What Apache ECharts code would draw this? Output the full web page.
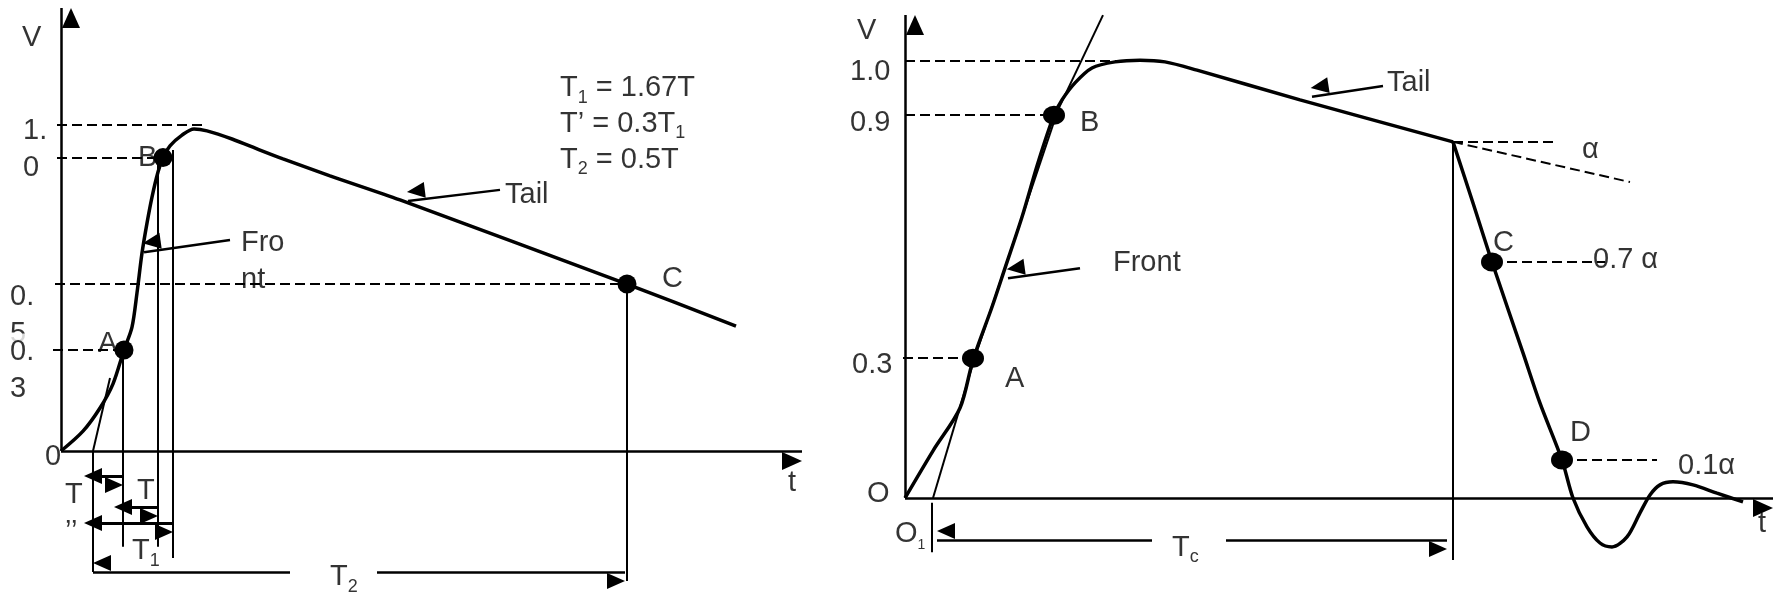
<!DOCTYPE html>
<html>
<head>
<meta charset="utf-8">
<title>Impulse wave shapes</title>
<script src="https://cdn.jsdelivr.net/npm/echarts@6/dist/echarts.min.js"></script>
<style>
  html, body { margin: 0; padding: 0; background: #fff; }
  #main { width: 1778px; height: 599px; }
</style>
</head>
<body>
<div id="main"></div>
<script>
// ---- left diagram: t counted from the origin, V in per unit of the crest ----
const leftWave = [[0, 0], [22, 0.061], [39, 0.132], [52, 0.206], [63, 0.31], [71, 0.38], [76, 0.485],
  [81, 0.607], [86, 0.699], [91, 0.779], [97, 0.856], [102, 0.9], [109, 0.936], [121, 0.969],
  [133, 0.988], [146, 0.982], [171, 0.957], [199, 0.923], [222, 0.896], [269, 0.844], [339, 0.77],
  [566, 0.512], [675, 0.383]];
const leftPoints = [[63, 0.31], [102, 0.9], [566, 0.512]];           // A, B, C
const leftAxes = [[0, 0, 741, 0], [0, 0, 0, 1.359]];
const leftGuides = [[-4, 1.0, 142, 1.0], [-4, 0.9, 102, 0.9], [-6, 0.512, 566, 0.512], [-8, 0.31, 63, 0.31]];
const leftDrops = [[62, 0.31, 62, -0.294], [97, 0.883, 97, -0.294], [112, 0.923, 112, -0.328],
  [32, 0, 32, -0.371], [566, 0.512, 566, -0.399], [32, 0, 49, 0.224]];
const leftDims = [[32, -0.077, 62, -0.077], [62, -0.172, 97, -0.172], [32, -0.221, 112, -0.221]];
const leftPointers = [[229, -0.371, 32, -0.371], [316, -0.371, 564, -0.371],
  [169, 0.647, 83, 0.61], [439, 0.801, 347, 0.767]];
const leftLabels = [
  ['V', -39, 1.267], ['1.\n0', -38, 0.925], ['0.\n5', -51, 0.416], ['0.\n3', -51, 0.247],
  ['0', -16, -0.018], ['A', 37, 0.328], ['B', 77, 0.899], ['Fro\nnt', 180, 0.58],
  ['Tail', 444, 0.785], ['T{s|1} = 1.67T', 499, 1.113], ['T’ = 0.3T{s|1}', 499, 1.003],
  ['T{s|2} = 0.5T', 499, 0.893], ['C', 601, 0.528], ['t', 727, -0.098], ['T\n’’', 4, -0.192],
  ['T', 76, -0.123], ['T{s|1}', 71, -0.307], ['T{s|2}', 269, -0.387]
];

// ---- right diagram ----
const rightRise = [[0, 0], [28, 0.108], [55, 0.206], [68, 0.316], [87, 0.437], [100, 0.526], [117, 0.643],
  [133, 0.767], [149, 0.876], [157, 0.911], [170, 0.95], [187, 0.984], [210, 0.998], [235, 1.002],
  [260, 0.998], [292, 0.979], [395, 0.911], [548, 0.815]];
const rightFall = [[548, 0.815], [568, 0.675], [587, 0.54], [618, 0.332], [635, 0.217], [657, 0.087],
  [668, 0], [682, -0.066], [695, -0.103], [707, -0.112], [722, -0.089], [735, -0.034], [745, 0.007],
  [755, 0.03], [768, 0.037], [788, 0.03], [812, 0.011], [838, -0.009]];
const rightPoints = [[68, 0.32], [149, 0.876], [587, 0.54], [657, 0.087]];   // A, B, C, D
const rightAxes = [[0, 0, 868, 0], [0, 0, 0, 1.105]];
const rightGuides = [[0, 1.0, 215, 1.0], [0, 0.876, 149, 0.876], [-2, 0.32, 68, 0.32],
  [548, 0.815, 653, 0.815], [548, 0.815, 725, 0.723], [587, 0.54, 700, 0.54], [657, 0.087, 752, 0.087]];
const rightDrops = [[548, 0.815, 548, -0.142], [27, -0.011, 27, -0.124],
  [198, 1.105, 153, 0.888], [153, 0.888, 70, 0.323], [70, 0.323, 28, 0]];
const rightPointers = [[247, -0.096, 32, -0.096], [321, -0.096, 542, -0.096],
  [175, 0.526, 103, 0.503], [478, 0.943, 407, 0.918]];
const rightLabels = [
  ['V', -48, 1.069], ['1.0', -55, 0.975], ['0.9', -55, 0.858], ['0.3', -53, 0.304],
  ['O', -38, 0.009], ['O{u|1}', -10, -0.082], ['A', 100, 0.272], ['B', 175, 0.858],
  ['Front', 208, 0.538], ['Tail', 482, 0.95], ['α', 677, 0.796], ['C', 588, 0.584],
  ['0.7 α', 688, 0.545], ['D', 665, 0.149], ['0.1α', 773, 0.073], ['t', 853, -0.059],
  ['T{s|c}', 267, -0.114]
];

const FONT = 'Liberation Sans, Arial, sans-serif';
const DOT = 'path://M0 1A1 1 0 1 1 2 1A1 1 0 1 1 0 1Z';

// markLine helper: every straight stroke goes through the axes of its grid
function strokes(grid, segs, opt) {
  const size = opt.size || [16, 18];
  return {
    type: 'line', xAxisIndex: grid, yAxisIndex: grid, data: [], silent: true, z: 2,
    markLine: {
      silent: true, animation: false,
      symbol: opt.symbol || ['none', 'none'],
      symbolSize: size,
      symbolOffset: [0, size[1] / 2],
      label: { show: false },
      emphasis: { disabled: true },
      lineStyle: { color: '#000', width: opt.width || 2, type: opt.dash || 'solid', opacity: 1 },
      data: segs.map(s => [{ coord: [s[0], s[1]] }, { coord: [s[2], s[3]] }])
    }
  };
}

function curve(grid, data) {
  return {
    type: 'line', xAxisIndex: grid, yAxisIndex: grid, data: data, smooth: 0.3,
    symbol: 'none', silent: true, z: 3, lineStyle: { color: '#000', width: 3.5 }
  };
}

function dots(grid, data, size) {
  return {
    type: 'scatter', xAxisIndex: grid, yAxisIndex: grid, data: data, symbol: DOT,
    symbolSize: size, silent: true, z: 4, itemStyle: { color: '#000', opacity: 1 }
  };
}

function texts(grid, list) {
  return {
    type: 'scatter', xAxisIndex: grid, yAxisIndex: grid, symbolSize: 0, silent: true, z: 1,
    clip: false,
    data: list.map(l => ({ name: l[0], value: [l[1], l[2]] })),
    label: {
      show: true, position: 'right', distance: 0, formatter: p => p.name,
      color: '#000', fontFamily: FONT, fontSize: 29, lineHeight: 37, backgroundColor: '#fff',
      rich: {
        s: { fontFamily: FONT, fontSize: 18, lineHeight: 18, verticalAlign: 'bottom', color: '#000' },
        u: { fontFamily: FONT, fontSize: 14, lineHeight: 14, verticalAlign: 'bottom', color: '#000' }
      }
    }
  };
}

const chart = echarts.init(document.getElementById('main'));
// pixel origin of each diagram inside its grid and pixels per unit of V
const L = { x0: 61, y0: 451, v: 326 };
const R = { x0: 66, y0: 498, v: 437 };
chart.setOption({
  animation: false,
  backgroundColor: '#fff',
  grid: [
    { left: 0, top: 0, width: 839, height: 599 },
    { left: 839, top: 0, width: 939, height: 599 }
  ],
  xAxis: [
    { gridIndex: 0, type: 'value', show: false, min: -L.x0, max: 839 - L.x0 },
    { gridIndex: 1, type: 'value', show: false, min: -R.x0, max: 939 - R.x0 }
  ],
  yAxis: [
    { gridIndex: 0, type: 'value', show: false, min: -(599 - L.y0) / L.v, max: L.y0 / L.v },
    { gridIndex: 1, type: 'value', show: false, min: -(599 - R.y0) / R.v, max: R.y0 / R.v }
  ],
  series: [
    texts(0, leftLabels),
    strokes(0, leftAxes, { symbol: ['none', 'triangle'], size: [18, 20], width: 2.5 }),
    strokes(0, leftGuides, { dash: [10, 5] }),
    strokes(0, leftDrops, {}),
    strokes(0, leftDims, { symbol: ['triangle', 'triangle'], width: 3 }),
    strokes(0, leftPointers, { symbol: ['none', 'triangle'], width: 2.5 }),
    curve(0, leftWave),
    dots(0, leftPoints, [19, 19]),

    texts(1, rightLabels),
    strokes(1, rightAxes, { symbol: ['none', 'triangle'], size: [18, 20], width: 2.5 }),
    strokes(1, rightGuides, { dash: [10, 5] }),
    strokes(1, rightDrops, {}),
    strokes(1, rightPointers, { symbol: ['none', 'triangle'], width: 2.5 }),
    curve(1, rightRise),
    curve(1, rightFall),
    dots(1, rightPoints, [22, 19])
  ]
});
window.addEventListener('resize', function () {
  chart.resize();
});
</script>
</body>
</html>
